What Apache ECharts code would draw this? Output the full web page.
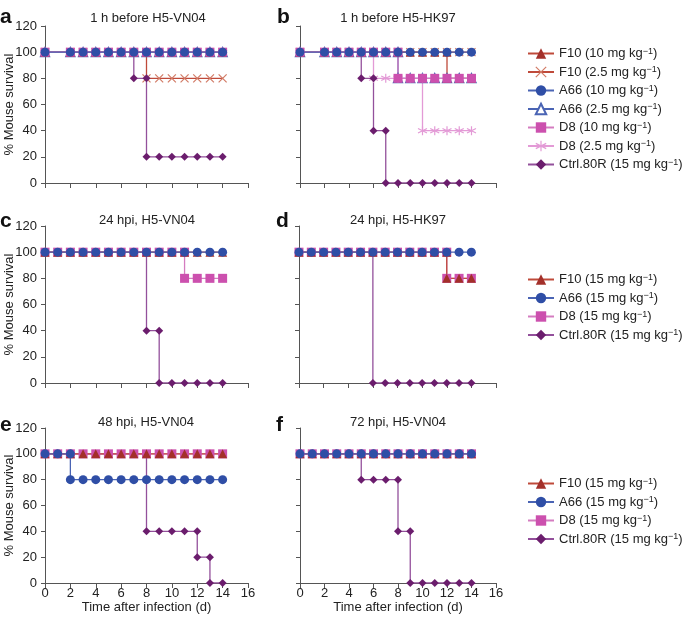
<!DOCTYPE html>
<html>
<head>
<meta charset="utf-8">
<script src="https://cdn.jsdelivr.net/npm/echarts@6/dist/echarts.min.js"></script>
<style>
  html, body { margin: 0; padding: 0; background: #fff; }
  #chart { width: 685px; height: 620px; }
</style>
</head>
<body>
<div id="chart"></div>
<script>
// days sampled in panels a, b (no day 1) and in panels c-f
const daysAB = [0, 2, 3, 4, 5, 6, 7, 8, 9, 10, 11, 12, 13, 14];
const fullAB = [100, 100, 100, 100, 100, 100, 100, 100, 100, 100, 100, 100, 100, 100];
const days = [0, 1, 2, 3, 4, 5, 6, 7, 8, 9, 10, 11, 12, 13, 14];
const full = [100, 100, 100, 100, 100, 100, 100, 100, 100, 100, 100, 100, 100, 100, 100];

// a: 1 h before H5-VN04
const aF10lowX = [0, 2, 3, 4, 5, 6, 7, 8, 8, 9, 10, 11, 12, 13, 14];
const aF10lowY = [100, 100, 100, 100, 100, 100, 100, 100, 80, 80, 80, 80, 80, 80, 80];
const aCtrlX = [0, 2, 3, 4, 5, 6, 7, 7, 8, 8, 9, 10, 11, 12, 13, 14];
const aCtrlY = [100, 100, 100, 100, 100, 100, 100, 80, 80, 20, 20, 20, 20, 20, 20, 20];

// b: 1 h before H5-HK97
const bF10X = [0, 2, 3, 4, 5, 6, 7, 8, 9, 10, 11, 12, 12, 13, 14];
const bF10Y = [100, 100, 100, 100, 100, 100, 100, 100, 100, 100, 100, 100, 80, 80, 80];
const bA66lowX = [0, 2, 3, 4, 5, 6, 7, 8, 8, 9, 10, 11, 12, 13, 14];
const bA66lowY = [100, 100, 100, 100, 100, 100, 100, 100, 80, 80, 80, 80, 80, 80, 80];
const bD8X = [0, 2, 3, 4, 5, 6, 7, 8, 8, 9, 10, 11, 12, 13, 14];
const bD8Y = [100, 100, 100, 100, 100, 100, 100, 100, 80, 80, 80, 80, 80, 80, 80];
const bD8lowX = [0, 2, 3, 4, 5, 6, 6, 7, 8, 9, 10, 10, 11, 12, 13, 14];
const bD8lowY = [100, 100, 100, 100, 100, 100, 80, 80, 80, 80, 80, 40, 40, 40, 40, 40];
const bCtrlX = [0, 2, 3, 4, 5, 5, 6, 6, 7, 7, 8, 9, 10, 11, 12, 13, 14];
const bCtrlY = [100, 100, 100, 100, 100, 80, 80, 40, 40, 0, 0, 0, 0, 0, 0, 0, 0];

// c: 24 hpi, H5-VN04
const cD8X = [0, 1, 2, 3, 4, 5, 6, 7, 8, 9, 10, 11, 11, 12, 13, 14];
const cD8Y = [100, 100, 100, 100, 100, 100, 100, 100, 100, 100, 100, 100, 80, 80, 80, 80];
const cCtrlX = [0, 1, 2, 3, 4, 5, 6, 7, 8, 8, 9, 9, 10, 11, 12, 13, 14];
const cCtrlY = [100, 100, 100, 100, 100, 100, 100, 100, 100, 40, 40, 0, 0, 0, 0, 0, 0];

// d: 24 hpi, H5-HK97
const dF10X = [0, 1, 2, 3, 4, 5, 6, 7, 8, 9, 10, 11, 12, 12, 13, 14];
const dF10Y = [100, 100, 100, 100, 100, 100, 100, 100, 100, 100, 100, 100, 100, 80, 80, 80];
const dD8X = [0, 1, 2, 3, 4, 5, 6, 7, 8, 9, 10, 11, 12, 12, 13, 14];
const dD8Y = [100, 100, 100, 100, 100, 100, 100, 100, 100, 100, 100, 100, 100, 80, 80, 80];
const dCtrlX = [0, 1, 2, 3, 4, 5, 6, 6, 7, 8, 9, 10, 11, 12, 13, 14];
const dCtrlY = [100, 100, 100, 100, 100, 100, 100, 0, 0, 0, 0, 0, 0, 0, 0, 0];

// e: 48 hpi, H5-VN04
const eA66X = [0, 1, 2, 2, 3, 4, 5, 6, 7, 8, 9, 10, 11, 12, 13, 14];
const eA66Y = [100, 100, 100, 80, 80, 80, 80, 80, 80, 80, 80, 80, 80, 80, 80, 80];
const eCtrlX = [0, 1, 2, 3, 4, 5, 6, 7, 8, 8, 9, 10, 11, 12, 12, 13, 13, 14];
const eCtrlY = [100, 100, 100, 100, 100, 100, 100, 100, 100, 40, 40, 40, 40, 40, 20, 20, 0, 0];

// f: 72 hpi, H5-VN04
const fCtrlX = [0, 1, 2, 3, 4, 5, 5, 6, 7, 8, 8, 9, 9, 10, 11, 12, 13, 14];
const fCtrlY = [100, 100, 100, 100, 100, 100, 80, 80, 80, 80, 40, 40, 0, 0, 0, 0, 0, 0];

const titles = ['1 h before H5-VN04', '1 h before H5-HK97', '24 hpi, H5-VN04',
                '24 hpi, H5-HK97', '48 hpi, H5-VN04', '72 hpi, H5-VN04'];
const letters = ['a', 'b', 'c', 'd', 'e', 'f'];
const yTicks = [0, 20, 40, 60, 80, 100, 120];
const xTicks = [0, 2, 4, 6, 8, 10, 12, 14, 16];

const N_F10 = 'F10 (10 mg kg−1)', N_F10low = 'F10 (2.5 mg kg−1)';
const N_A66 = 'A66 (10 mg kg−1)', N_A66low = 'A66 (2.5 mg kg−1)';
const N_D8 = 'D8 (10 mg kg−1)', N_D8low = 'D8 (2.5 mg kg−1)';
const N_Ctrl = 'Ctrl.80R (15 mg kg−1)';
const M_F10 = 'F10 (15 mg kg−1)', M_A66 = 'A66 (15 mg kg−1)', M_D8 = 'D8 (15 mg kg−1)';

const FONT = '"Liberation Sans", Arial, Helvetica, sans-serif';
const CROSS = 'path://M0,0L10,10M10,0L0,10';
const STAR = 'path://M5,0L5,10M0.7,2.5L9.3,7.5M0.7,7.5L9.3,2.5';

const STY = {
  F10:    { symbol: 'triangle', size: 9, color: '#a3302a', line: '#bf4a3a' },
  F10low: { symbol: CROSS, size: 8, stroke: '#d27b66', line: '#bf4a3a' },
  A66:    { symbol: 'circle', size: 9, color: '#2f4ea6', line: '#4a64b4' },
  A66low: { symbol: 'emptyTriangle', size: 8, color: '#4a64b4', line: '#4a64b4', bw: 1.2 },
  D8:     { symbol: 'rect', size: 9, color: '#cc50ae', line: '#d47cc0' },
  D8low:  { symbol: STAR, size: 9, stroke: '#e39ad6', line: '#e39ad6' },
  Ctrl:   { symbol: 'diamond', size: 8, color: '#6b1d6d', line: '#93509b' }
};

function mk(name, key, gi, xs, ys) {
  const s = STY[key];
  let itemStyle;
  if (s.stroke) itemStyle = { color: 'rgba(0,0,0,0)', borderColor: s.stroke, borderWidth: 1.2 };
  else if (s.bw) itemStyle = { color: s.color, borderColor: s.color, borderWidth: s.bw };
  else itemStyle = { color: s.color, borderWidth: 0 };
  return {
    name: name, type: 'line', xAxisIndex: gi, yAxisIndex: gi,
    data: xs.map((x, i) => [x, ys[i]]),
    symbol: s.symbol, symbolSize: s.size, showSymbol: true, showAllSymbol: true,
    lineStyle: { color: s.line, width: 1.3 },
    itemStyle: itemStyle,
    emphasis: { disabled: true }, silent: true
  };
}

const series = [
  // a
  mk(N_A66low, 'A66low', 0, daysAB, fullAB),
  mk(N_F10low, 'F10low', 0, aF10lowX, aF10lowY),
  mk(N_D8low, 'D8low', 0, daysAB, fullAB),
  mk(N_F10, 'F10', 0, daysAB, fullAB),
  mk(N_Ctrl, 'Ctrl', 0, aCtrlX, aCtrlY),
  mk(N_D8, 'D8', 0, daysAB, fullAB),
  mk(N_A66, 'A66', 0, daysAB, fullAB),
  // b
  mk(N_A66low, 'A66low', 1, bA66lowX, bA66lowY),
  mk(N_F10low, 'F10low', 1, daysAB, fullAB),
  mk(N_D8low, 'D8low', 1, bD8lowX, bD8lowY),
  mk(N_F10, 'F10', 1, bF10X, bF10Y),
  mk(N_Ctrl, 'Ctrl', 1, bCtrlX, bCtrlY),
  mk(N_D8, 'D8', 1, bD8X, bD8Y),
  mk(N_A66, 'A66', 1, daysAB, fullAB),
  // c
  mk(N_Ctrl, 'Ctrl', 2, cCtrlX, cCtrlY),
  mk(M_D8, 'D8', 2, cD8X, cD8Y),
  mk(M_F10, 'F10', 2, days, full),
  mk(M_A66, 'A66', 2, days, full),
  // d
  mk(N_Ctrl, 'Ctrl', 3, dCtrlX, dCtrlY),
  mk(M_D8, 'D8', 3, dD8X, dD8Y),
  mk(M_F10, 'F10', 3, dF10X, dF10Y),
  mk(M_A66, 'A66', 3, days, full),
  // e
  mk(N_Ctrl, 'Ctrl', 4, eCtrlX, eCtrlY),
  mk(M_D8, 'D8', 4, days, full),
  mk(M_F10, 'F10', 4, days, full),
  mk(M_A66, 'A66', 4, eA66X, eA66Y),
  // f
  mk(N_Ctrl, 'Ctrl', 5, fCtrlX, fCtrlY),
  mk(M_D8, 'D8', 5, days, full),
  mk(M_F10, 'F10', 5, days, full),
  mk(M_A66, 'A66', 5, days, full)
];

const grids = [
  { left: 45, top: 26, width: 203, height: 157 },
  { left: 300, top: 26, width: 196, height: 157 },
  { left: 45, top: 226, width: 203, height: 157 },
  { left: 299, top: 226, width: 197, height: 157 },
  { left: 45, top: 428, width: 203, height: 155 },
  { left: 300, top: 428, width: 196, height: 155 }
];

const axisCol = '#555';
const textCol = '#222';

const xAxes = grids.map((g, i) => ({
  gridIndex: i, type: 'value', min: xTicks[0], max: xTicks[xTicks.length - 1], interval: 2,
  axisLine: { show: true, onZero: false, lineStyle: { color: axisCol, width: 1 } },
  axisTick: { show: true, length: 5, lineStyle: { color: axisCol } },
  axisLabel: { show: i >= 4, fontSize: 13, color: textCol, margin: 4, fontFamily: FONT },
  splitLine: { show: false },
  name: i >= 4 ? 'Time after infection (d)' : '',
  nameLocation: 'middle', nameGap: 18, nameMoveOverlap: false,
  nameTextStyle: { fontSize: 13, color: textCol, fontFamily: FONT }
}));

const yAxes = grids.map((g, i) => ({
  gridIndex: i, type: 'value', min: yTicks[0], max: yTicks[yTicks.length - 1], interval: 20,
  axisLine: { show: true, onZero: false, lineStyle: { color: axisCol, width: 1 } },
  axisTick: { show: true, length: 4, lineStyle: { color: axisCol } },
  axisLabel: { show: i % 2 === 0, fontSize: 13, color: textCol, margin: 8, fontFamily: FONT },
  splitLine: { show: false },
  name: i % 2 === 0 ? '% Mouse survival' : '',
  nameLocation: 'middle', nameGap: 29, nameMoveOverlap: false,
  nameTextStyle: { fontSize: 13, color: textCol, fontFamily: FONT }
}));

function legend(top, names) {
  return {
    orient: 'vertical', left: 527, top: top, padding: 0,
    itemWidth: 26, itemHeight: 13, itemGap: 5.5,
    selectedMode: false, data: names,
    formatter: n => n.replace('−1', '{s|−1}'),
    itemStyle: { borderWidth: 'inherit' },
    textStyle: {
      fontSize: 13, color: textCol, fontFamily: FONT, lineHeight: 13, overflow: 'none',
      rich: { s: { fontSize: 9, fontFamily: FONT, color: textCol, verticalAlign: 'top', lineHeight: 9 } }
    }
  };
}

const titlePos = [[148, 18], [398, 18], [147, 220], [398, 220], [146, 422], [398, 422]];
const letterPos = [[0, 17], [277, 17], [0, 221], [276, 221], [0, 425], [276, 425]];

const graphic = [];
titles.forEach((t, i) => graphic.push({
  type: 'text', x: titlePos[i][0], y: titlePos[i][1], silent: true,
  style: { text: t, font: '13px ' + FONT, fill: textCol,
           align: 'center', verticalAlign: 'middle', textAlign: 'center', textVerticalAlign: 'middle' }
}));
letters.forEach((t, i) => graphic.push({
  type: 'text', x: letterPos[i][0], y: letterPos[i][1], silent: true,
  style: { text: t, font: 'bold 21px ' + FONT, fill: '#111',
           align: 'left', verticalAlign: 'middle', textAlign: 'left', textVerticalAlign: 'middle' }
}));

const chart = echarts.init(document.getElementById('chart'), null, { renderer: 'canvas' });
chart.setOption({
  animation: false,
  backgroundColor: '#fff',
  textStyle: { fontFamily: FONT },
  grid: grids.map(g => Object.assign({ containLabel: false, outerBoundsMode: 'none' }, g)),
  xAxis: xAxes,
  yAxis: yAxes,
  legend: [
    legend(47, [N_F10, N_F10low, N_A66, N_A66low, N_D8, N_D8low, N_Ctrl]),
    legend(273, [M_F10, M_A66, M_D8, N_Ctrl]),
    legend(477, [M_F10, M_A66, M_D8, N_Ctrl])
  ],
  graphic: graphic,
  series: series
});
</script>
</body>
</html>
